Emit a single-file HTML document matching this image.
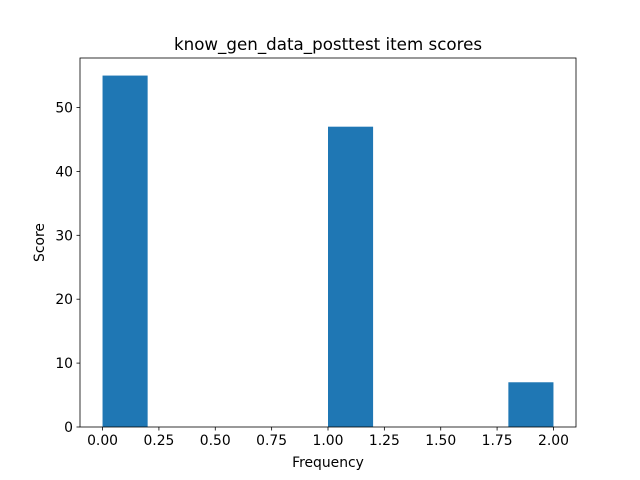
<!DOCTYPE html>
<html><head><meta charset="utf-8"><style>
html,body{margin:0;padding:0;background:#fff;}
svg{display:block;font-family:"DejaVu Sans","Liberation Sans",sans-serif;}
</style></head><body>
<svg id="chart" width="640" height="480"></svg>
<script>
const binEdges = [0,0.2,0.4,0.6,0.8,1.0,1.2,1.4,1.6,1.8,2.0];
const counts = [55,0,0,0,0,47,0,0,0,7];
const xTicks = [0,0.25,0.5,0.75,1.0,1.25,1.5,1.75,2.0];
const xTickLabels = ["0.00","0.25","0.50","0.75","1.00","1.25","1.50","1.75","2.00"];
const yTicks = [0,10,20,30,40,50];

const L=80,R=576,T=58,B=427;
const xMin=-0.1,xMax=2.1,yMin=0,yMax=57.75;
const sx=v=>L+(v-xMin)/(xMax-xMin)*(R-L);
const sy=v=>B-(v-yMin)/(yMax-yMin)*(B-T);
const NS="http://www.w3.org/2000/svg";
const svg=document.getElementById('chart');
function mk(tag,attrs,parent){const e=document.createElementNS(NS,tag);for(const k in attrs)e.setAttribute(k,attrs[k]);(parent||svg).appendChild(e);return e;}

const bars=mk('g',{});


counts.forEach((c,i)=>{
  if(c<=0)return;
  const x0=sx(binEdges[i]),x1=sx(binEdges[i+1]);
  const r=mk('rect',{x:x0,y:sy(c),width:x1-x0,height:sy(0)-sy(c),fill:'#1f77b4'},bars);
  
  
});

const frame=mk('rect',{x:L,y:T,width:R-L,height:B-T,fill:'none',stroke:'#000','stroke-width':0.8});



const xg=mk('g',{});


xTicks.forEach((t,i)=>{
  const x=sx(t);
  mk('line',{x1:x,x2:x,y1:B,y2:B+3.5,stroke:'#000','stroke-width':0.8},xg);
  const tx=mk('text',{x:x,y:B+18,'font-size':13.9,'text-anchor':'middle',fill:'#000'},xg);
  tx.textContent=xTickLabels[i];
  
  
});
const yg=mk('g',{});


yTicks.forEach(t=>{
  const y=sy(t);
  mk('line',{x1:L-3.5,x2:L,y1:y,y2:y,stroke:'#000','stroke-width':0.8},yg);
  const tx=mk('text',{x:L-7,y:y+5,'font-size':13.9,'text-anchor':'end',fill:'#000'},yg);
  tx.textContent=String(t);
  
  
});

const xl=mk('text',{x:(L+R)/2,y:467,'font-size':13.9,'text-anchor':'middle',fill:'#000'});
xl.textContent='Frequency';


const yx=44,yc=(T+B)/2;
const yl=mk('text',{x:yx,y:yc,'font-size':13.9,'text-anchor':'middle',fill:'#000',transform:'rotate(-90 '+yx+' '+yc+')'});
yl.textContent='Score';


const ti=mk('text',{x:(L+R)/2,y:50,'font-size':16.7,'text-anchor':'middle',fill:'#000'});
ti.textContent='know_gen_data_posttest item scores';


</script>
</body></html>
